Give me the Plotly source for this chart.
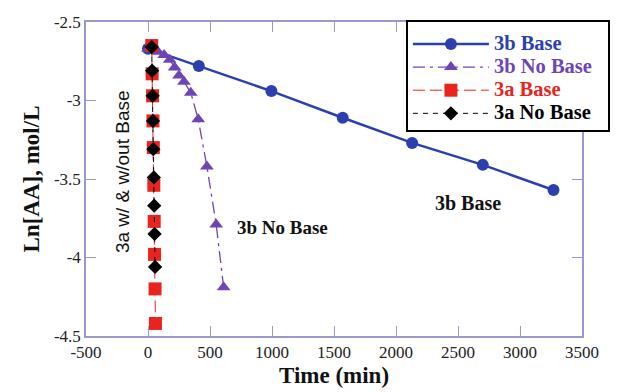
import plotly.graph_objects as go

# ---- data ----
b3_base_time = [0, 410, 995, 1570, 2130, 2700, 3270]
b3_base_ln = [-2.67, -2.78, -2.94, -3.11, -3.27, -3.41, -3.57]

b3_nobase_time = [0, 80, 130, 175, 215, 250, 290, 345, 405, 475, 550, 610]
b3_nobase_ln = [-2.67, -2.69, -2.71, -2.74, -2.79, -2.84, -2.88, -2.95, -3.12, -3.42, -3.79, -4.19]

a3_base_time = [30, 33, 37, 40, 43, 47, 50, 53, 57, 60]
a3_base_ln = [-2.65, -2.83, -2.97, -3.13, -3.30, -3.54, -3.77, -3.98, -4.20, -4.42]

a3_nobase_time = [30, 33, 37, 40, 43, 47, 50, 53, 57]
a3_nobase_ln = [-2.66, -2.81, -2.97, -3.13, -3.31, -3.49, -3.67, -3.85, -4.06]

x_tick_vals = [-500, 0, 500, 1000, 1500, 2000, 2500, 3000, 3500]
x_tick_text = ["-500", "0", "500", "1000", "1500", "2000", "2500", "3000", "3500"]
y_tick_vals = [-2.5, -3, -3.5, -4, -4.5]
y_tick_text = ["-2.5", "-3", "-3.5", "-4", "-4.5"]

BLUE = "#2b3fae"
PURPLE = "#6f45b5"
RED = "#e8241c"
BLACK = "#000000"
AXIS = "#9a98cc"
SERIF = "Liberation Serif"


def lname(txt, color):
    return f"<span style='font-size:20.5px;color:{color}'><b>{txt}</b>&nbsp;&nbsp;</span>"


fig = go.Figure()
fig.add_trace(go.Scatter(
    x=b3_base_time, y=b3_base_ln, mode="lines+markers",
    name=lname("3b Base", BLUE),
    line=dict(color=BLUE, width=2.5),
    marker=dict(symbol="circle", size=12, color=BLUE),
))
fig.add_trace(go.Scatter(
    x=b3_nobase_time, y=b3_nobase_ln, mode="lines+markers",
    name=lname("3b No Base", PURPLE),
    line=dict(color=PURPLE, width=1.3, dash="12px,5px,3px,5px"),
    marker=dict(symbol="triangle-up", size=12, color=PURPLE),
))
fig.add_trace(go.Scatter(
    x=a3_base_time, y=a3_base_ln, mode="lines+markers",
    name=lname("3a Base", RED),
    line=dict(color=RED, width=1, dash="12px,5px"),
    marker=dict(symbol="square", size=13, color=RED),
))
fig.add_trace(go.Scatter(
    x=a3_nobase_time, y=a3_nobase_ln, mode="lines+markers",
    name=lname("3a No Base", BLACK),
    line=dict(color=BLACK, width=1, dash="5px,5px"),
    marker=dict(symbol="diamond", size=11, color=BLACK),
))

fig.update_layout(
    width=636, height=392,
    margin=dict(l=86, r=54, t=22, b=56, autoexpand=False),
    paper_bgcolor="white", plot_bgcolor="white",
    font=dict(family=SERIF, color="#111"),
    showlegend=True,
    legend=dict(
        x=0.645, y=1.006, xanchor="left", yanchor="top",
        bgcolor="white", bordercolor="black", borderwidth=2,
        font=dict(family=SERIF, size=15.5, color="black"),
        itemwidth=76, tracegroupgap=0,
        title=dict(text=" ", font=dict(size=4)),
    ),
    xaxis=dict(
        range=[-500, 3500], tickmode="array", tickvals=x_tick_vals, ticktext=x_tick_text,
        ticks="inside", ticklen=10, tickcolor=AXIS, tickwidth=1,
        showline=True, linecolor=AXIS, linewidth=1.5, mirror="ticks",
        showgrid=False, zeroline=False, automargin=False,
        ticklabelstandoff=0,
        tickfont=dict(family=SERIF, size=17, color="#222"),
        title=dict(text="<b>Time (min)</b>", font=dict(family=SERIF, size=23, color="#111"), standoff=6),
    ),
    yaxis=dict(
        range=[-4.5, -2.5], tickmode="array", tickvals=y_tick_vals, ticktext=y_tick_text,
        ticks="inside", ticklen=10, tickcolor=AXIS, tickwidth=1,
        showline=True, linecolor=AXIS, linewidth=1.5, mirror="ticks",
        showgrid=False, zeroline=False, automargin=False,
        tickfont=dict(family=SERIF, size=17, color="#222"),
        title=dict(text="<b>Ln[AA], mol/L</b>", font=dict(family=SERIF, size=23, color="#111"), standoff=8),
    ),
    annotations=[
        dict(text="3a w/ & w/out Base", textangle=-90, xref="paper", yref="paper",
             x=0.0726, y=0.522, xanchor="center", yanchor="middle", showarrow=False,
             font=dict(family="Liberation Sans", size=19, color="#111")),
        dict(text="<b>3b No Base</b>", xref="paper", yref="paper",
             x=0.397, y=0.344, xanchor="center", yanchor="middle", showarrow=False,
             font=dict(family=SERIF, size=19, color="#111")),
        dict(text="<b>3b Base</b>", xref="paper", yref="paper",
             x=0.770, y=0.424, xanchor="center", yanchor="middle", showarrow=False,
             font=dict(family=SERIF, size=20, color="#111")),
    ],
)

fig.write_html("out.html", config={"displayModeBar": False},
               post_script="document.body.style.margin='0px';")
